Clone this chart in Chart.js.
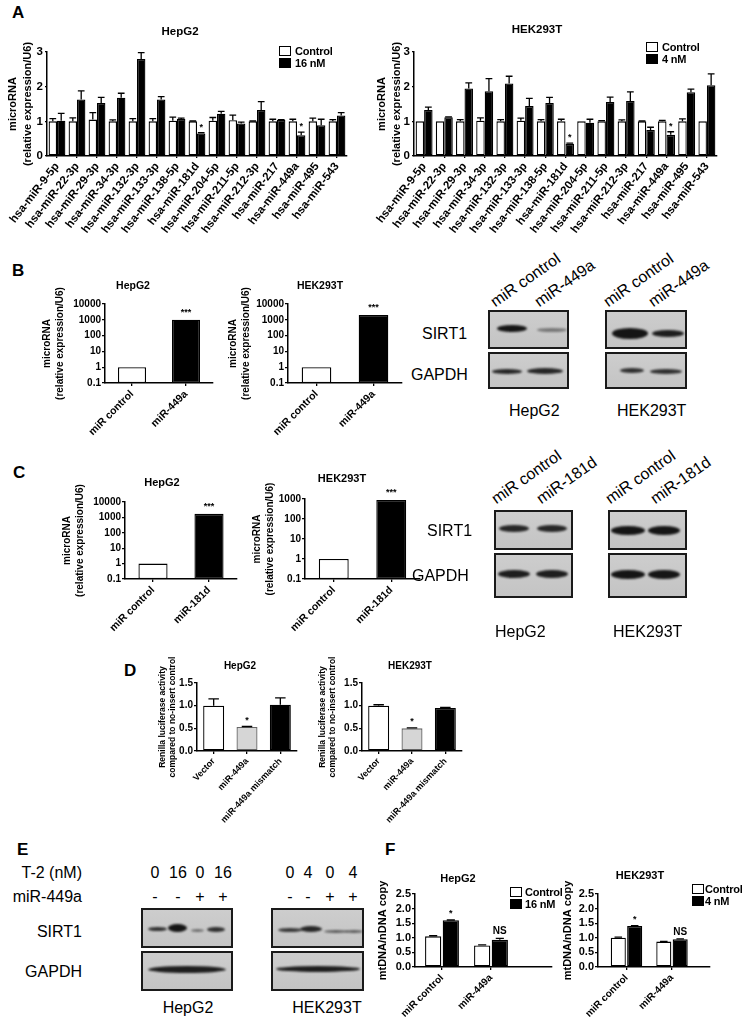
<!DOCTYPE html>
<html>
<head>
<meta charset="utf-8">
<script src="https://cdn.jsdelivr.net/npm/chart.js@4.4.1/dist/chart.umd.min.js"></script>
<style>
  body { margin: 0; width: 743px; height: 1022px; position: relative; overflow: hidden; background: #fff;
         font-family: 'Liberation Sans', Arial, sans-serif; color: #000; }
  .chartbox { position: absolute; }
  .letter { position: absolute; font-weight: bold; font-size: 17px; line-height: 17px; }
  .ttl { position: absolute; font-weight: bold; transform: translate(-50%, -50%); white-space: nowrap; }
  .big { position: absolute; font-size: 16px; line-height: 16px; white-space: nowrap; }
  .lane { position: absolute; font-size: 16px; line-height: 16px; white-space: nowrap; transform-origin: 0 100%; transform: rotate(-35deg); }
  .blot { position: absolute; border: 2px solid #1a1a1a; box-sizing: border-box; background: linear-gradient(#cdcdcd, #c4c4c4); }
  .band { position: absolute; background: #151515; border-radius: 50%; filter: blur(1.1px); }
  .legbox { position: absolute; border: 1.5px solid #000; box-sizing: border-box; }
  .legtxt { position: absolute; font-weight: bold; font-size: 11px; line-height: 11px; white-space: nowrap; letter-spacing: -0.2px; }
</style>
</head>
<body>
<script>
// ---- Panel A: miRNA screen after T-2 exposure ----
const miRNAs = ['hsa-miR-9-5p', 'hsa-miR-22-3p', 'hsa-miR-29-3p', 'hsa-miR-34-3p', 'hsa-miR-132-3p',
  'hsa-miR-133-3p', 'hsa-miR-138-5p', 'hsa-miR-181d', 'hsa-miR-204-5p', 'hsa-miR-211-5p',
  'hsa-miR-212-3p', 'hsa-miR-217', 'hsa-miR-449a', 'hsa-miR-495', 'hsa-miR-543'];
const hepg2Ctrl    = [1.0, 1.0, 1.05, 1.0, 1.0, 1.0, 1.02, 1.0, 1.02, 1.03, 1.0, 1.0, 1.0, 1.0, 1.0];
const hepg2CtrlErr = [0.08, 0.1, 0.2, 0.04, 0.08, 0.08, 0.1, 0.01, 0.09, 0.15, 0.01, 0.06, 0.06, 0.09, 0.05];
const hepg2T2      = [1.02, 1.63, 1.53, 1.68, 2.8, 1.63, 1.07, 0.65, 1.22, 0.94, 1.33, 1.04, 0.6, 0.89, 1.17];
const hepg2T2Err   = [0.21, 0.25, 0.16, 0.13, 0.18, 0.08, 0.02, 0.02, 0.07, 0.04, 0.24, 0.01, 0.09, 0.17, 0.08];
const hepg2T2Marks = ['', '', '', '', '', '', '', '*', '', '', '', '', '*', '', ''];
const hekCtrl      = [1.0, 1.0, 1.0, 1.02, 1.0, 1.02, 1.0, 1.0, 1.0, 1.0, 1.0, 1.0, 1.0, 1.0, 1.0];
const hekCtrlErr   = [0.0, 0.0, 0.05, 0.08, 0.05, 0.07, 0.05, 0.06, 0.0, 0.02, 0.04, 0.01, 0.03, 0.07, 0.0];
const hekT2        = [1.33, 1.12, 1.95, 1.87, 2.09, 1.44, 1.53, 0.35, 0.96, 1.56, 1.59, 0.75, 0.61, 1.84, 2.04];
const hekT2Err     = [0.08, 0.01, 0.16, 0.36, 0.21, 0.22, 0.16, 0.02, 0.1, 0.14, 0.26, 0.08, 0.09, 0.09, 0.33];
const hekT2Marks   = ['', '', '', '', '', '', '', '*', '', '', '', '', '*', '', ''];
const aTicks = [0, 1, 2, 3];

// ---- Panels B and C: overexpression (log scale) ----
const logTicks = [0.1, 1, 10, 100, 1000, 10000];
const groups449 = ['miR control', 'miR-449a'];
const hepg2Over449 = [1, 1000];
const hekOver449 = [1, 2000];
const groups181 = ['miR control', 'miR-181d'];
const hepg2Over181 = [1, 1700];
const hekOver181 = [1, 900];
const overMarks = ['', '***'];

// ---- Panel D: luciferase reporter ----
const reporterGroups = ['Vector', 'miR-449a', 'miR-449a mismatch'];
const hepg2Luc = [1.0, 0.53, 1.02];
const hepg2LucErr = [0.15, 0.01, 0.15];
const hekLuc = [1.0, 0.5, 0.95];
const hekLucErr = [0.02, 0.01, 0.01];
const lucMarks = ['', '*', ''];

// ---- Panel F: mtDNA copy number ----
const mtGroups = ['miR control', 'miR-449a'];
const hepg2MtCtrl = [1.05, 0.74];
const hepg2MtCtrlErr = [0.02, 0.02];
const hepg2MtT2 = [1.6, 0.93];
const hepg2MtT2Err = [0.01, 0.05];
const hekMtCtrl = [1.0, 0.87];
const hekMtCtrlErr = [0.02, 0.01];
const hekMtT2 = [1.4, 0.95];
const hekMtT2Err = [0.02, 0.01];
const mtMarks = ['*', 'NS'];

Chart.defaults.font.family = "'Liberation Sans', Arial, sans-serif";
Chart.defaults.color = '#000';

// draws one-sided error bars and significance marks above bars
const errorBars = {
  id: 'errorBars',
  afterDatasetsDraw(chart, args, opts) {
    const ctx = chart.ctx;
    const yScale = chart.scales.y;
    chart.data.datasets.forEach((ds, i) => {
      const meta = chart.getDatasetMeta(i);
      meta.data.forEach((bar, j) => {
        const raw = ds.data[j];
        const val = typeof raw === 'object' ? raw.y : raw;
        const err = ds.errors ? ds.errors[j] : 0;
        let top = bar.y;
        ctx.save();
        if (err) {
          top = yScale.getPixelForValue(val + err);
          const cap = bar.width * (opts.cap || 0.5) / 2;
          ctx.strokeStyle = '#000';
          ctx.lineWidth = 1.3;
          ctx.beginPath();
          ctx.moveTo(bar.x, bar.y);
          ctx.lineTo(bar.x, top);
          ctx.moveTo(bar.x - cap, top);
          ctx.lineTo(bar.x + cap, top);
          ctx.stroke();
        }
        const mark = ds.marks ? ds.marks[j] : '';
        if (mark) {
          ctx.fillStyle = '#000';
          ctx.font = 'bold ' + (mark === 'NS' ? opts.nsSize || 10 : opts.markSize || 9) + "px 'Liberation Sans', Arial";
          ctx.textAlign = 'center';
          ctx.textBaseline = 'bottom';
          ctx.fillText(mark, bar.x, top - (opts.gap || 2));
        }
        ctx.restore();
      });
    });
  }
};

// y tick labels drawn on top of everything, placed with the y scale
const yLabels = {
  id: 'yLabels',
  afterDraw(chart, args, opts) {
    if (!opts || !opts.values) return;
    const ctx = chart.ctx;
    const yScale = chart.scales.y;
    ctx.save();
    ctx.fillStyle = '#000';
    ctx.font = 'bold ' + opts.size + "px 'Liberation Sans', Arial";
    ctx.textAlign = 'right';
    ctx.textBaseline = 'middle';
    opts.values.forEach(v => {
      ctx.fillText(String(v), chart.chartArea.left - opts.offset, yScale.getPixelForValue(v));
    });
    ctx.restore();
  }
};

function barStyle(fill) {
  return { backgroundColor: fill, borderColor: '#000', borderWidth: 1.3, borderSkipped: false };
}

function makeChart(o) {
  const left = o.x0 - o.yw, top = o.y0 - o.pt;
  const w = o.yw + (o.x1 - o.x0) + o.pr, h = o.pt + (o.y1 - o.y0) + o.xh;
  const box = document.createElement('div');
  box.className = 'chartbox';
  box.style.cssText = `left:${left}px;top:${top}px;width:${w}px;height:${h}px`;
  const canvas = document.createElement('canvas');
  box.appendChild(canvas);
  document.body.appendChild(box);
  const axisBase = {
    border: { color: '#000', width: 1.5 },
    grid: { drawOnChartArea: false, color: '#000', lineWidth: 1.3, tickLength: o.tickLen || 3, offset: false }
  };
  const xScale = Object.assign({}, axisBase, {
    ticks: Object.assign({ autoSkip: false, minRotation: o.rot, maxRotation: o.rot, padding: 2, color: '#000',
      font: { size: o.labelSize, weight: 'bold' } }, o.xTicks || {}),
    afterFit: s => { s.height = o.xh; s.paddingLeft = 0; s.paddingRight = 0; }
  }, o.x || {});
  const yScale = Object.assign({}, axisBase, {
    ticks: Object.assign({ autoSkip: false, padding: 1, color: '#000', font: { size: o.tickSize, weight: 'bold' } }, o.yTicks || {}),
    title: { display: true, text: o.yTitle, color: '#000', font: { size: o.titleSize, weight: 'bold', lineHeight: o.titleLh + 'px' },
      padding: { top: o.titleX - left - o.titleLh / 2, bottom: 0 } },
    afterFit: s => { s.width = o.yw; s.paddingTop = 0; s.paddingBottom = 0; }
  }, o.y || {});
  return new Chart(canvas, {
    type: 'bar',
    data: { labels: o.labels, datasets: o.datasets },
    options: {
      responsive: true, maintainAspectRatio: false, animation: false,
      layout: { padding: { top: o.pt, right: o.pr, left: 0, bottom: 0 } },
      plugins: { legend: { display: false }, tooltip: { enabled: false },
        errorBars: o.marksOpt || {}, yLabels: o.yLabelOpt || {} },
      scales: { x: xScale, y: yScale }
    },
    plugins: [errorBars, yLabels]
  });
}

function addText(cls, txt, x, y, extra) {
  const d = document.createElement('div');
  d.className = cls;
  d.textContent = txt;
  d.style.left = x + 'px';
  d.style.top = y + 'px';
  if (extra) Object.assign(d.style, extra);
  document.body.appendChild(d);
  return d;
}

function legend(x, y, names, gap) {
  names.forEach((n, i) => {
    addText('legbox', '', x, y + i * 11.5, { width: '12px', height: '10px', background: i ? '#000' : '#fff' });
    addText('legtxt', n, x + gap, y + i * 11.5);
  });
}

function blot(x, y, w, h, bands) {
  addText('blot', '', x, y, { width: w + 'px', height: h + 'px' });
  bands.forEach(b => {
    addText('band', '', b[0] - b[2] / 2, b[1] - b[3] / 2, { width: b[2] + 'px', height: b[3] + 'px', opacity: b[4] });
  });
}

// ---------- Panel A ----------
function aChart(x0, x1, titleX, ctrl, ctrlErr, t2, t2Err, t2Marks, t2Name) {
  return makeChart({ x0: x0, x1: x1, titleX: titleX, y0: 52, y1: 156, yw: 47, pt: 26, pr: 4, xh: 82, rot: 52,
    labelSize: 11.5, tickSize: 11.5, tickLen: 2, titleSize: 11, titleLh: 15,
    yTitle: ['microRNA', '(relative expression/U6)'], labels: miRNAs,
    y: { min: 0, max: 3, afterBuildTicks: s => { s.ticks = aTicks.map(v => ({ value: v })); } },
    yTicks: { display: false },
    yLabelOpt: { values: aTicks, size: 11.5, offset: 4 },
    marksOpt: { cap: 0.8, markSize: 9, gap: 1 },
    datasets: [
      Object.assign({ label: 'Control', data: ctrl, errors: ctrlErr, categoryPercentage: 0.84, barPercentage: 1 }, barStyle('#fff')),
      Object.assign({ label: t2Name, data: t2, errors: t2Err, marks: t2Marks, categoryPercentage: 0.84, barPercentage: 1 }, barStyle('#000'))
    ] });
}
aChart(47, 347, 13, hepg2Ctrl, hepg2CtrlErr, hepg2T2, hepg2T2Err, hepg2T2Marks, '16 nM');
aChart(414, 717, 382, hekCtrl, hekCtrlErr, hekT2, hekT2Err, hekT2Marks, '4 nM');
addText('letter', 'A', 12, 4);
addText('ttl', 'HepG2', 180, 31, { fontSize: '11.5px' });
addText('ttl', 'HEK293T', 537, 29, { fontSize: '11.5px' });
legend(279, 46, ['Control', '16 nM'], 16);
legend(646, 42, ['Control', '4 nM'], 16);

// ---------- Panels B and C (log scale) ----------
function logChart(o, labels, values, max) {
  makeChart(Object.assign({
    yw: 67, pt: 28, pr: 6, xh: 60, rot: 45, labelSize: 10.5, tickSize: 10, titleSize: 10, titleLh: 13,
    yTitle: ['microRNA', '(relative expression/U6)'], labels: labels,
    y: { type: 'logarithmic', min: 0.1, max: max,
      afterBuildTicks: s => { s.ticks = logTicks.filter(v => v <= max).map(v => ({ value: v })); } },
    yTicks: { callback: v => String(v) },
    marksOpt: { markSize: 9, gap: 3 },
    datasets: [{ data: values, marks: overMarks, backgroundColor: ['#fff', '#000'], borderColor: '#000',
      borderWidth: 1.3, borderSkipped: false, categoryPercentage: 1, barPercentage: 0.52 }]
  }, o));
}
logChart({ x0: 105, x1: 213, y0: 304, y1: 383, titleX: 47 }, groups449, hepg2Over449, 10000);
logChart({ x0: 288, x1: 402, y0: 304, y1: 383, titleX: 233 }, groups449, hekOver449, 10000);
logChart({ x0: 125, x1: 237, y0: 502, y1: 579, titleX: 67 }, groups181, hepg2Over181, 10000);
logChart({ x0: 305, x1: 420, y0: 499, y1: 579, titleX: 257 }, groups181, hekOver181, 1000);
addText('letter', 'B', 12, 262);
addText('ttl', 'HepG2', 133, 285, { fontSize: '10.5px' });
addText('ttl', 'HEK293T', 320, 285, { fontSize: '10.5px' });
addText('letter', 'C', 13, 464);
addText('ttl', 'HepG2', 162, 482, { fontSize: '11px' });
addText('ttl', 'HEK293T', 342, 478, { fontSize: '11px' });

// western blots B
addText('lane', 'miR control', 497, 294);
addText('lane', 'miR-449a', 541, 294);
addText('lane', 'miR control', 610, 294);
addText('lane', 'miR-449a', 655, 294);
blot(488, 310, 81, 39, [[512, 328, 30, 7, 1], [552, 330, 30, 4, 0.45]]);
blot(488, 352, 81, 37, [[507, 371, 30, 5, 0.9], [545, 371, 36, 6, 0.9]]);
blot(605, 310, 82, 39, [[630, 333, 36, 11, 1], [668, 333, 32, 7, 0.95]]);
blot(605, 352, 82, 37, [[632, 370, 24, 5, 0.85], [666, 371, 32, 5, 0.85]]);
addText('big', 'SIRT1', 422, 326);
addText('big', 'GAPDH', 411, 367);
addText('big', 'HepG2', 509, 403);
addText('big', 'HEK293T', 617, 403);

// western blots C
addText('lane', 'miR control', 498, 491);
addText('lane', 'miR-181d', 543, 491);
addText('lane', 'miR control', 612, 491);
addText('lane', 'miR-181d', 657, 491);
blot(494, 510, 79, 40, [[514, 528, 30, 7, 0.9], [552, 528, 30, 7, 0.9]]);
blot(494, 553, 79, 45, [[514, 574, 32, 8, 0.95], [552, 574, 32, 8, 0.95]]);
blot(608, 510, 79, 40, [[628, 530, 34, 9, 1], [664, 530, 32, 9, 1]]);
blot(608, 553, 79, 45, [[628, 574, 34, 9, 1], [664, 574, 32, 9, 1]]);
addText('big', 'SIRT1', 427, 523);
addText('big', 'GAPDH', 412, 568);
addText('big', 'HepG2', 495, 624);
addText('big', 'HEK293T', 613, 624);

// ---------- Panel D ----------
function lucChart(o, values, errs) {
  makeChart(Object.assign({
    y0: 683, y1: 751, yw: 47, pt: 36, pr: 6, xh: 86, rot: 47, labelSize: 9, tickSize: 10,
    titleSize: 8.5, titleLh: 10, yTitle: ['Renilla luciferase activity', 'compared to no-insert control'],
    labels: reporterGroups, y: { min: 0, max: 1.5 }, yTicks: { stepSize: 0.5, callback: v => v.toFixed(1) },
    marksOpt: { cap: 0.5, markSize: 9, gap: 2 },
    datasets: [{ data: values, errors: errs, marks: lucMarks, backgroundColor: ['#fff', '#d6d6d6', '#000'],
      borderColor: ['#000', '#666', '#000'], borderWidth: 1.3, borderSkipped: false,
      categoryPercentage: 1, barPercentage: 0.63 }]
  }, o));
}
lucChart({ x0: 197, x1: 297, titleX: 163 }, hepg2Luc, hepg2LucErr);
lucChart({ x0: 362, x1: 462, titleX: 323 }, hekLuc, hekLucErr);
addText('letter', 'D', 124, 662);
addText('ttl', 'HepG2', 240, 665, { fontSize: '10px' });
addText('ttl', 'HEK293T', 410, 665, { fontSize: '10px' });

// ---------- Panel E (blots only) ----------
addText('letter', 'E', 17, 841);
addText('big', 'T-2 (nM)', 82, 865, { transform: 'translateX(-100%)' });
addText('big', 'miR-449a', 82, 889, { transform: 'translateX(-100%)' });
addText('big', 'SIRT1', 82, 924, { transform: 'translateX(-100%)' });
addText('big', 'GAPDH', 82, 964, { transform: 'translateX(-100%)' });
[[155, '0', '-'], [178, '16', '-'], [200, '0', '+'], [223, '16', '+'],
 [290, '0', '-'], [308, '4', '-'], [330, '0', '+'], [353, '4', '+']].forEach(l => {
  addText('big', l[1], l[0], 865, { transform: 'translateX(-50%)' });
  addText('big', l[2], l[0], 889, { transform: 'translateX(-50%)' });
});
blot(141, 908, 92, 40, [[157, 929, 19, 4, 0.85], [177, 928, 19, 8, 1], [197, 930, 13, 3, 0.5], [216, 929, 18, 5, 0.85]]);
blot(141, 951, 92, 40, [[187, 969, 78, 7, 0.95]]);
blot(271, 908, 93, 40, [[290, 930, 24, 4, 0.8], [311, 929, 22, 6, 0.9], [336, 931, 24, 3, 0.6], [354, 931, 18, 3, 0.6]]);
blot(271, 951, 93, 40, [[318, 969, 84, 6, 0.95]]);
addText('big', 'HepG2', 188, 1000, { transform: 'translateX(-50%)' });
addText('big', 'HEK293T', 327, 1000, { transform: 'translateX(-50%)' });

// ---------- Panel F ----------
function mtChart(o, ctrl, ctrlErr, t2, t2Err, xmin, xmax) {
  makeChart(Object.assign({
    y0: 894, y1: 967, pt: 18, pr: 4, xh: 52, rot: 45, labelSize: 10, tickSize: 11, titleSize: 11, titleLh: 13,
    yTitle: 'mtDNA/nDNA copy', labels: undefined,
    x: { type: 'linear', offset: false, min: xmin, max: xmax,
      afterBuildTicks: s => { s.ticks = mtGroups.map((g, i) => ({ value: i + 1 })); } },
    xTicks: { callback: v => mtGroups[v - 1] },
    y: { min: 0, max: 2.5 }, yTicks: { stepSize: 0.5, callback: v => v.toFixed(1) },
    marksOpt: { cap: 0.5, markSize: 9, nsSize: 10, gap: 2 },
    datasets: [
      Object.assign({ data: ctrl.map((v, i) => ({ x: i + 1, y: v })), errors: ctrlErr, categoryPercentage: 0.72, barPercentage: 0.92 }, barStyle('#fff')),
      Object.assign({ data: t2.map((v, i) => ({ x: i + 1, y: v })), errors: t2Err, marks: mtMarks, categoryPercentage: 0.72, barPercentage: 0.92 }, barStyle('#000'))
    ]
  }, o));
}
mtChart({ x0: 415, x1: 552, yw: 42, titleX: 383 }, hepg2MtCtrl, hepg2MtCtrlErr, hepg2MtT2, hepg2MtT2Err, 0.449, 3.245);
mtChart({ x0: 598, x1: 710, yw: 40, titleX: 568 }, hekMtCtrl, hekMtCtrlErr, hekMtT2, hekMtT2Err, 0.374, 2.835);
addText('letter', 'F', 385, 841);
addText('ttl', 'HepG2', 458, 878, { fontSize: '11px' });
addText('ttl', 'HEK293T', 640, 875, { fontSize: '11px' });
legend(510, 887, ['Control', '16 nM'], 15);
legend(692, 884, ['Control', '4 nM'], 13);
</script>
</body>
</html>
